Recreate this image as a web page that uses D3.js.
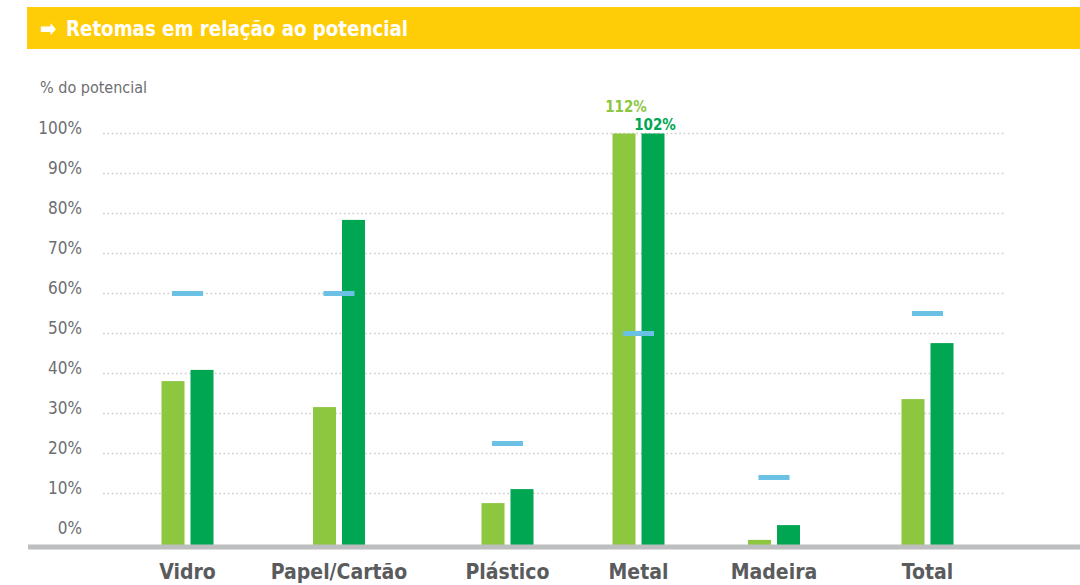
<!DOCTYPE html>
<html>
<head>
<meta charset="utf-8">
<script src="https://cdn.jsdelivr.net/npm/d3@7"></script>
<style>
  html, body { margin: 0; padding: 0; background: #fff; }
  svg { display: block; }
</style>
</head>
<body>
<svg id="chart" width="1080" height="585"></svg>
<script>
// ---- data ----
const title = "Retomas em relação ao potencial";
const yAxisTitle = "% do potencial";
const categories = ["Vidro", "Papel/Cartão", "Plástico", "Metal", "Madeira", "Total"];
const seriesNames = ["Série A", "Série B"];
const valuesA = [38.1, 31.6, 7.6, 112, -1.6, 33.6];
const valuesB = [40.9, 78.4, 11.1, 102, 2.1, 47.6];
const targets = [60, 60, 22.5, 50, 14, 55];
const tickValues = [0, 10, 20, 30, 40, 50, 60, 70, 80, 90, 100];

// ---- styles ----
const colA = "#8DC63F", colB = "#00A651", colTarget = "#6BC1E3";
const yellow = "#FFCD07", gridCol = "#CFCFCF", axisCol = "#BDBEC0";
const textGrey = "#6D6E71", catGrey = "#5A5B5D";
const font = "'DejaVu Sans Condensed', 'DejaVu Sans', sans-serif";

const svg = d3.select("#chart");

// title bar
svg.append("rect").attr("x", 27).attr("y", 7).attr("width", 1053).attr("height", 42).attr("fill", yellow);
svg.append("text").attr("x", 40).attr("y", 36)
  .attr("fill", "#fff").attr("font-family", font).attr("font-weight", "bold").attr("font-size", 22)
  .text("➡");
svg.append("text").attr("x", 66).attr("y", 36)
  .attr("fill", "#fff").attr("font-family", font).attr("font-weight", "bold").attr("font-size", 22)
  .attr("textLength", 342).attr("lengthAdjust", "spacingAndGlyphs")
  .text(title);

// y-axis title
svg.append("text").attr("x", 40).attr("y", 93)
  .attr("fill", textGrey).attr("font-family", font).attr("font-size", 16)
  .text(yAxisTitle);

// scales
const y = d3.scaleLinear().domain([-2.875, 100]).range([545, 133.5]).clamp(true);
const x = d3.scaleOrdinal().domain(categories).range([187.5, 339, 507.5, 638.5, 774, 927.5]);
const xSub = d3.scaleBand().domain(seriesNames).range([-26, 26]).paddingInner(0.207);

// gridlines (dotted)
svg.append("g").selectAll("line")
  .data(tickValues.filter(t => t > 0))
  .join("line")
  .attr("x1", 103).attr("x2", 1004)
  .attr("y1", d => y(d)).attr("y2", d => y(d))
  .attr("stroke", gridCol).attr("stroke-width", 1.5)
  .attr("stroke-dasharray", "1.8,2.5");

// y tick labels
svg.append("g").selectAll("text")
  .data(tickValues)
  .join("text")
  .attr("x", 82).attr("y", d => y(d) + 0.5)
  .attr("text-anchor", "end")
  .attr("fill", textGrey).attr("font-family", font).attr("font-size", 17)
  .text(d => d + "%");

// bars
const baseY = y.range()[0];
const seriesData = [valuesA, valuesB];
const colors = [colA, colB];
seriesData.forEach((vals, si) => {
  svg.append("g").selectAll("rect")
    .data(categories.map((c, i) => ({ c, v: vals[i] })))
    .join("rect")
    .attr("x", d => x(d.c) + xSub(seriesNames[si]))
    .attr("width", xSub.bandwidth())
    .attr("y", d => y(d.v))
    .attr("height", d => baseY - y(d.v))
    .attr("fill", colors[si]);
});

// target markers
svg.append("g").selectAll("rect")
  .data(categories.map((c, i) => ({ c, v: targets[i] })))
  .join("rect")
  .attr("x", d => x(d.c) - 15.5)
  .attr("width", 31)
  .attr("y", d => y(d.v) - 2.5)
  .attr("height", 5)
  .attr("fill", colTarget);

// overflow labels for values beyond the axis maximum
seriesData.forEach((vals, si) => {
  svg.append("g").selectAll("text")
    .data(categories.map((c, i) => ({ c, v: vals[i] })).filter(d => d.v > 100))
    .join("text")
    .attr("x", d => x(d.c) + xSub(seriesNames[si]) + xSub.bandwidth() / 2 + 2)
    .attr("y", y(100) - 3.5 - (si === 0 ? 18 : 0))
    .attr("text-anchor", "middle")
    .attr("fill", colors[si]).attr("font-family", font).attr("font-weight", "bold").attr("font-size", 15)
    .text(d => Math.round(d.v) + "%");
});

// x axis baseline
svg.append("rect").attr("x", 28).attr("y", 544.5).attr("width", 1052).attr("height", 5).attr("fill", axisCol);

// category labels
svg.append("g").selectAll("text")
  .data(categories)
  .join("text")
  .attr("x", d => x(d)).attr("y", 579)
  .attr("text-anchor", "middle")
  .attr("fill", catGrey).attr("font-family", font).attr("font-weight", "bold").attr("font-size", 21)
  .text(d => d);
</script>
</body>
</html>
